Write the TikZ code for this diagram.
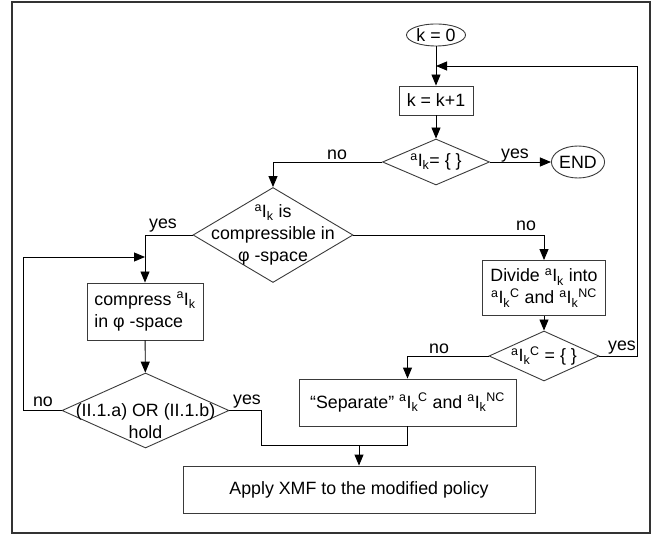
\documentclass[tikz,border=0pt]{standalone}
\usepackage{fontspec}
\setmainfont{Liberation Sans}
\usetikzlibrary{arrows.meta,shapes.geometric}
\newcommand{\aIk}{\textsuperscript{a}I\textsubscript{k}}
\definecolor{cBox}{HTML}{3A3A3A}
\definecolor{cFrame}{HTML}{333333}

\begin{document}
\begin{tikzpicture}[x=1bp,y=-1bp,
  font=\fontsize{17.8bp}{22bp}\selectfont,
  >={Triangle[length=11bp,width=9bp]},
  flow/.style={draw=black,line width=0.9bp},
  box/.style={draw=cBox,line width=0.9bp,rectangle,inner sep=0pt,align=center},
  rhomb/.style={draw=cBox,line width=0.9bp,diamond,inner sep=0pt},
  oval/.style={draw=cBox,line width=0.9bp,ellipse,inner sep=0pt},
  lbl/.style={anchor=base,inner sep=0pt}]
  \useasboundingbox (0,0) rectangle (663,535);
  \draw[cFrame,line width=1.4bp] (12,2) rectangle (650,533);
  % start and counter
  \node[oval,minimum width=59bp,minimum height=22bp] (k0) at (436,35) {k = 0};
  \node[box,minimum width=74bp,minimum height=29bp] (inc) at (436,100.5) {k = k+1};
  \node[rhomb,minimum width=107bp,minimum height=46bp] (empty) at (436,162) {};
  \node at (empty) {\aIk= \{ \}};
  \node[oval,minimum width=50bp,minimum height=32bp] (end) at (578,162) {END};
  % compressibility test
  \node[rhomb,minimum width=160bp,minimum height=95bp] (cmp) at (273,235) {};
  \node[align=center] at (cmp) {\aIk{} is\\compressible in\\φ -space};
  \node[box,minimum width=123bp,minimum height=55bp] (div) at (544,288)
    {Divide \aIk{} into\\\aIk\textsuperscript{C} and \aIk\textsuperscript{NC}};
  \node[rhomb,minimum width=110bp,minimum height=50bp] (isC) at (544,356) {};
  \node at (isC) {\aIk\textsuperscript{C} = \{ \}};
  \node[box,minimum width=217bp,minimum height=47bp] (sep) at (407.5,402.5)
    {“Separate” \aIk\textsuperscript{C} and \aIk\textsuperscript{NC}};
  \node[box,minimum width=116bp,minimum height=57bp,align=left] (comp) at (145,311.5)
    {compress \aIk\\in φ -space};
  \node[rhomb,minimum width=167bp,minimum height=75bp] (hold) at (145.5,410.5) {};
  \node[align=center] at (145.5,421) {(II.1.a) OR (II.1.b)\\hold};
  \node[box,minimum width=352bp,minimum height=47bp] (apply) at (359,489.5)
    {Apply XMF to the modified policy};
  % junctions
  \coordinate (jtop) at (436,66);
  \coordinate (jleft) at (145,257);
  \coordinate (jbot) at (359,445);
  % connectors
  \draw[flow,->] (k0) -- (inc);
  \draw[flow,->] (inc) -- (empty);
  \draw[flow,->] (empty.east) -- (end.west);
  \draw[flow,->] (empty.west) -| (cmp.north);
  \draw[flow,->] (cmp.east) -| (div.north);
  \draw[flow,->] (div) -- (isC);
  \draw[flow,->] (isC.east) -- ++(38,0) |- (jtop);
  \draw[flow,->] (isC.west) -| (sep.north);
  \draw[flow,->] (cmp.west) -| (comp.north);
  \draw[flow,->] (comp) -- (hold);
  \draw[flow,->] (hold.west) -- ++(-38,0) |- (jleft);
  \draw[flow] (hold.east) -- ++(32,0) |- (jbot);
  \draw[flow] (sep.south) |- (jbot);
  \draw[flow,->] (jbot) -- (apply.north);
  % branch labels
  \node[lbl] at (337,160) {no};
  \node[lbl] at (515,159) {yes};
  \node[lbl] at (163,229) {yes};
  \node[lbl] at (526,231) {no};
  \node[lbl] at (439,353) {no};
  \node[lbl] at (622,350) {yes};
  \node[lbl] at (43,406) {no};
  \node[lbl] at (247,404) {yes};
\end{tikzpicture}
\end{document}
